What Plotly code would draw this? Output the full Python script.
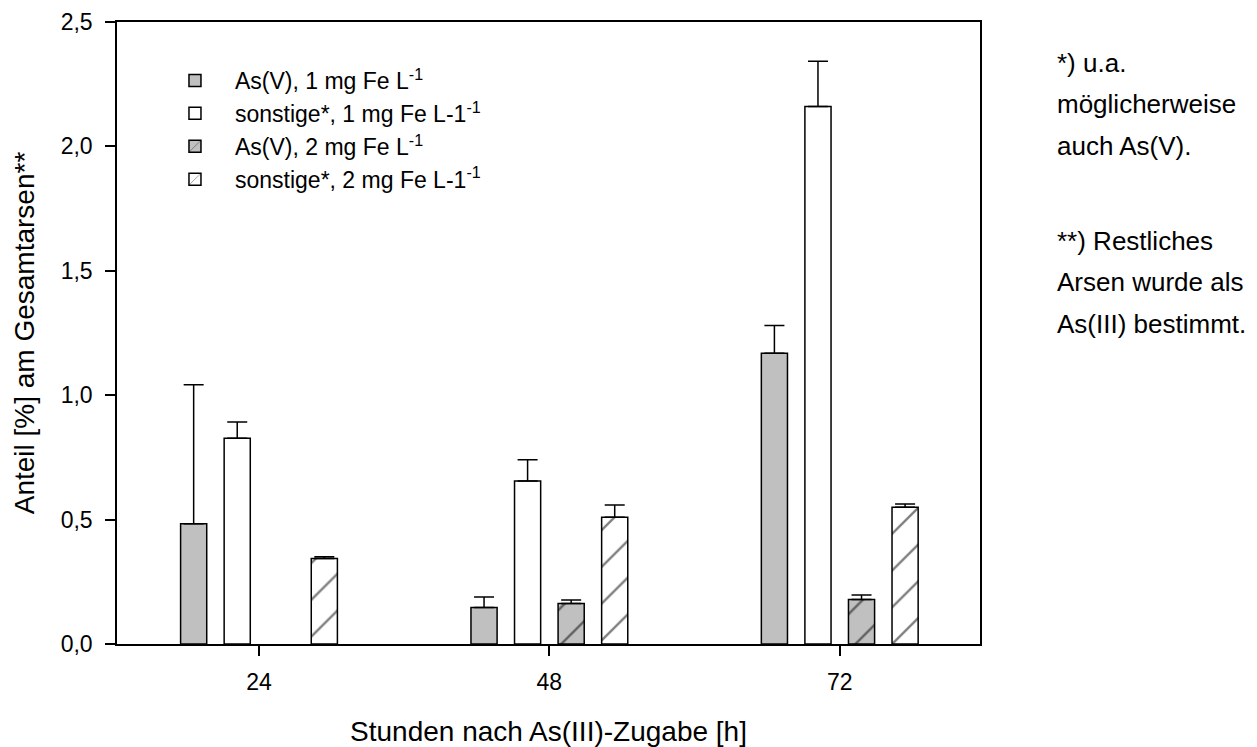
import plotly.graph_objects as go

# Hours after As(III) addition
hours = ["24", "48", "72"]

# Share of total arsenic [%] and upper error (SD) per series
asv_1mg = [0.483, 0.147, 1.169]
asv_1mg_err = [0.559, 0.042, 0.111]

other_1mg = [0.827, 0.655, 2.160]
other_1mg_err = [0.065, 0.086, 0.182]

asv_2mg = [None, 0.163, 0.179]
asv_2mg_err = [0.0, 0.014, 0.018]

other_2mg = [0.344, 0.509, 0.550]
other_2mg_err = [0.007, 0.050, 0.013]

series_names = [
    "As(V), 1 mg Fe L<sup>-1</sup>",
    "sonstige*, 1 mg Fe L-1<sup>-1</sup>",
    "As(V), 2 mg Fe L<sup>-1</sup>",
    "sonstige*, 2 mg Fe L-1<sup>-1</sup>",
]

y_ticks = [0.0, 0.5, 1.0, 1.5, 2.0, 2.5]

footnote_lines = [
    "*) u.a.",
    "möglicherweise",
    "auch As(V).",
    "**) Restliches",
    "Arsen wurde als",
    "As(III) bestimmt.",
]
footnote_y_px = [63, 104, 146, 241, 282, 324]

FONT = "Liberation Sans, Arial, sans-serif"
GRAY = "#c0c0c0"
W, H = 1257, 747
M_L, M_R, M_T, M_B = 117, 277, 22, 103


def bar(values, errors, name, fill, hatched):
    marker = dict(color=fill, line=dict(color="black", width=1.5))
    if hatched:
        marker["pattern"] = dict(shape="/", size=26, solidity=0.09,
                                 fgcolor="black", bgcolor=fill,
                                 fillmode="overlay")
    return go.Bar(
        x=hours, y=values, name=name, marker=marker,
        error_y=dict(type="data", array=errors, symmetric=False,
                     arrayminus=[0] * len(errors), color="black",
                     thickness=1.5, width=10),
    )


fig = go.Figure([
    bar(asv_1mg, asv_1mg_err, series_names[0], GRAY, False),
    bar(other_1mg, other_1mg_err, series_names[1], "white", False),
    bar(asv_2mg, asv_2mg_err, series_names[2], GRAY, True),
    bar(other_2mg, other_2mg_err, series_names[3], "white", True),
])

axis_common = dict(showline=True, linecolor="black", linewidth=1.5,
                   mirror=True, ticks="outside", ticklen=10, tickwidth=1.5,
                   tickcolor="black", showgrid=False, zeroline=False,
                   automargin=False,
                   tickfont=dict(size=23, color="black", family=FONT))

plot_h = H - M_T - M_B

fig.update_layout(
    width=W, height=H,
    margin=dict(l=M_L, r=M_R, t=M_T, b=M_B),
    paper_bgcolor="white", plot_bgcolor="white",
    separators=",.",
    barmode="group", bargap=0.4, bargroupgap=0.4,
    font=dict(family=FONT, color="black"),
    showlegend=True,
    legend=dict(x=0.044, y=0.9405, xanchor="left", yanchor="top",
                bgcolor="rgba(0,0,0,0)", font=dict(size=23, family=FONT),
                tracegroupgap=0, itemwidth=70),
    xaxis=dict(axis_common, range=[-0.489, 2.483], ticklabelstandoff=7,
               title=dict(text="Stunden nach As(III)-Zugabe [h]",
                          font=dict(size=28), standoff=28)),
    yaxis=dict(axis_common, range=[0, 2.5], tickvals=y_ticks,
               tickformat=".1f", ticklabelstandoff=8,
               title=dict(text="Anteil [%] am Gesamtarsen**",
                          font=dict(size=28), standoff=18)),
)

for line, ypx in zip(footnote_lines, footnote_y_px):
    fig.add_annotation(
        text=line, xref="paper", yref="paper",
        x=(1055 - M_L) / (W - M_L - M_R), xanchor="left",
        y=1 - (ypx - M_T) / plot_h, yanchor="middle",
        showarrow=False, font=dict(size=26, family=FONT, color="black"),
    )

fig.write_html("out.html")
